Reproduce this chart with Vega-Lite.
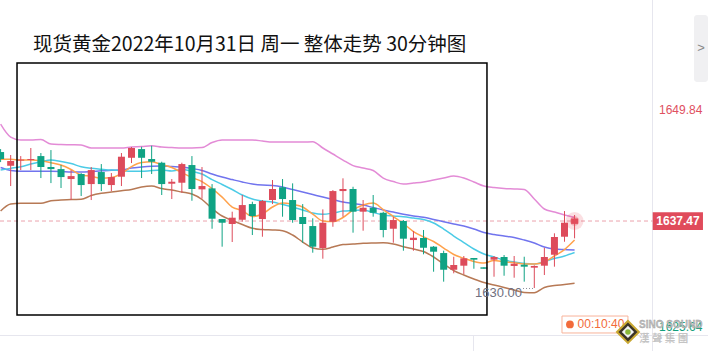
{
"$schema": "https://vega.github.io/schema/vega-lite/v6.json",
"width": 708, "height": 351, "padding": 0,
"autosize": {"type": "none"},
"background": "white",
"config": {"view": {"stroke": null}, "scale": {"continuousPadding": 0}},
"datasets": {
"k": [
{"i":0,"o":1645.16,"h":1645.49,"l":1644.04,"c":1644.38,"bu":1648.28,"mid":1643.43,"m10":1643.15,"m5":1644.35,"bl":1638.58},
{"i":1,"o":1643.63,"h":1644.83,"l":1641.37,"c":1644.16,"bu":1646.83,"mid":1643.10,"m10":1643.34,"m5":1644.35,"bl":1639.36},
{"i":2,"o":1644.21,"h":1644.71,"l":1643.15,"c":1644.32,"bu":1646.50,"mid":1643.01,"m10":1643.52,"m5":1644.27,"bl":1639.44},
{"i":3,"o":1644.27,"h":1645.61,"l":1643.15,"c":1644.38,"bu":1646.50,"mid":1643.01,"m10":1643.82,"m5":1644.27,"bl":1639.44},
{"i":4,"o":1644.71,"h":1645.05,"l":1642.26,"c":1643.49,"bu":1646.55,"mid":1643.01,"m10":1644.08,"m5":1644.19,"bl":1639.44},
{"i":5,"o":1643.49,"h":1645.38,"l":1641.70,"c":1643.26,"bu":1646.05,"mid":1643.01,"m10":1644.27,"m5":1643.97,"bl":1639.73},
{"i":6,"o":1643.26,"h":1643.71,"l":1641.15,"c":1642.37,"bu":1646.00,"mid":1642.99,"m10":1644.10,"m5":1643.71,"bl":1639.81},
{"i":7,"o":1642.15,"h":1643.15,"l":1639.81,"c":1642.48,"bu":1645.97,"mid":1642.93,"m10":1643.88,"m5":1643.21,"bl":1639.87},
{"i":8,"o":1642.71,"h":1642.82,"l":1640.26,"c":1641.48,"bu":1645.94,"mid":1642.93,"m10":1643.52,"m5":1642.60,"bl":1639.89},
{"i":9,"o":1641.59,"h":1643.49,"l":1639.81,"c":1643.15,"bu":1645.61,"mid":1642.99,"m10":1643.34,"m5":1642.46,"bl":1640.31},
{"i":10,"o":1642.93,"h":1643.82,"l":1640.81,"c":1641.59,"bu":1645.61,"mid":1643.08,"m10":1643.24,"m5":1642.23,"bl":1640.56},
{"i":11,"o":1641.48,"h":1642.82,"l":1640.81,"c":1642.37,"bu":1645.61,"mid":1643.12,"m10":1643.15,"m5":1642.32,"bl":1640.70},
{"i":12,"o":1642.41,"h":1645.05,"l":1641.37,"c":1644.64,"bu":1645.61,"mid":1643.15,"m10":1643.10,"m5":1642.76,"bl":1640.85},
{"i":13,"o":1644.52,"h":1645.72,"l":1643.93,"c":1645.61,"bu":1645.72,"mid":1643.38,"m10":1643.01,"m5":1643.54,"bl":1640.98},
{"i":14,"o":1645.49,"h":1645.75,"l":1642.26,"c":1644.52,"bu":1645.77,"mid":1643.49,"m10":1643.01,"m5":1643.99,"bl":1641.26},
{"i":15,"o":1644.38,"h":1645.86,"l":1642.71,"c":1644.08,"bu":1645.86,"mid":1643.57,"m10":1643.10,"m5":1644.08,"bl":1641.37},
{"i":16,"o":1643.97,"h":1644.08,"l":1640.37,"c":1641.59,"bu":1645.72,"mid":1643.60,"m10":1643.15,"m5":1643.77,"bl":1641.09},
{"i":17,"o":1641.63,"h":1642.15,"l":1639.92,"c":1641.85,"bu":1645.66,"mid":1643.54,"m10":1643.04,"m5":1643.43,"bl":1640.92},
{"i":18,"o":1641.74,"h":1643.97,"l":1640.62,"c":1643.82,"bu":1645.61,"mid":1643.49,"m10":1643.21,"m5":1642.87,"bl":1640.70},
{"i":19,"o":1643.71,"h":1644.71,"l":1639.73,"c":1641.04,"bu":1645.61,"mid":1643.32,"m10":1643.01,"m5":1642.32,"bl":1640.48},
{"i":20,"o":1641.00,"h":1643.49,"l":1639.96,"c":1641.37,"bu":1645.66,"mid":1643.10,"m10":1642.71,"m5":1641.87,"bl":1639.87},
{"i":21,"o":1641.11,"h":1641.59,"l":1636.61,"c":1637.73,"bu":1646.22,"mid":1642.71,"m10":1642.09,"m5":1641.09,"bl":1638.86},
{"i":22,"o":1637.69,"h":1637.69,"l":1634.61,"c":1637.28,"bu":1646.50,"mid":1642.37,"m10":1641.54,"m5":1640.14,"bl":1638.03},
{"i":23,"o":1637.14,"h":1638.51,"l":1635.13,"c":1637.84,"bu":1646.50,"mid":1642.09,"m10":1640.98,"m5":1639.03,"bl":1637.53},
{"i":24,"o":1637.61,"h":1640.37,"l":1637.39,"c":1639.25,"bu":1646.50,"mid":1641.82,"m10":1640.37,"m5":1638.64,"bl":1637.08},
{"i":25,"o":1639.36,"h":1639.62,"l":1635.91,"c":1638.03,"bu":1646.50,"mid":1641.59,"m10":1639.92,"m5":1637.97,"bl":1636.66},
{"i":26,"o":1637.69,"h":1639.81,"l":1635.72,"c":1639.70,"bu":1646.39,"mid":1641.48,"m10":1639.70,"m5":1638.25,"bl":1636.52},
{"i":27,"o":1639.81,"h":1642.04,"l":1639.36,"c":1641.04,"bu":1646.27,"mid":1641.43,"m10":1639.59,"m5":1639.03,"bl":1636.47},
{"i":28,"o":1641.23,"h":1642.15,"l":1637.95,"c":1639.92,"bu":1646.27,"mid":1641.26,"m10":1639.31,"m5":1639.48,"bl":1636.39},
{"i":29,"o":1639.81,"h":1641.67,"l":1637.28,"c":1637.58,"bu":1646.27,"mid":1640.98,"m10":1639.03,"m5":1639.33,"bl":1635.91},
{"i":30,"o":1637.92,"h":1639.36,"l":1635.05,"c":1637.14,"bu":1646.27,"mid":1640.70,"m10":1638.70,"m5":1639.03,"bl":1635.13},
{"i":31,"o":1636.91,"h":1637.77,"l":1633.94,"c":1634.61,"bu":1646.31,"mid":1640.42,"m10":1638.36,"m5":1638.25,"bl":1634.46},
{"i":32,"o":1634.46,"h":1638.77,"l":1633.27,"c":1637.28,"bu":1645.61,"mid":1640.14,"m10":1638.22,"m5":1637.47,"bl":1634.32},
{"i":33,"o":1637.39,"h":1640.92,"l":1636.83,"c":1640.81,"bu":1644.94,"mid":1639.87,"m10":1638.36,"m5":1637.41,"bl":1634.57},
{"i":34,"o":1640.81,"h":1642.23,"l":1637.95,"c":1641.04,"bu":1644.27,"mid":1639.59,"m10":1638.58,"m5":1637.86,"bl":1634.85},
{"i":35,"o":1641.04,"h":1641.29,"l":1636.17,"c":1638.51,"bu":1643.65,"mid":1639.42,"m10":1638.64,"m5":1638.70,"bl":1634.91},
{"i":36,"o":1638.51,"h":1639.81,"l":1636.39,"c":1638.95,"bu":1643.38,"mid":1639.25,"m10":1638.70,"m5":1639.25,"bl":1634.98},
{"i":37,"o":1638.95,"h":1640.37,"l":1637.95,"c":1638.39,"bu":1643.10,"mid":1638.97,"m10":1638.42,"m5":1639.48,"bl":1635.02},
{"i":38,"o":1638.39,"h":1638.51,"l":1635.65,"c":1636.47,"bu":1642.26,"mid":1638.70,"m10":1638.14,"m5":1638.75,"bl":1635.05},
{"i":39,"o":1636.61,"h":1637.95,"l":1635.05,"c":1637.58,"bu":1641.87,"mid":1638.47,"m10":1638.03,"m5":1637.97,"bl":1634.91},
{"i":40,"o":1637.47,"h":1637.58,"l":1634.16,"c":1635.50,"bu":1641.59,"mid":1638.22,"m10":1637.95,"m5":1637.19,"bl":1634.61},
{"i":41,"o":1635.35,"h":1636.36,"l":1634.16,"c":1635.61,"bu":1641.70,"mid":1638.03,"m10":1637.80,"m5":1636.30,"bl":1634.35},
{"i":42,"o":1635.58,"h":1636.47,"l":1633.76,"c":1634.49,"bu":1641.82,"mid":1637.88,"m10":1637.64,"m5":1635.69,"bl":1634.07},
{"i":43,"o":1634.61,"h":1634.68,"l":1631.82,"c":1634.05,"bu":1642.04,"mid":1637.64,"m10":1637.25,"m5":1635.19,"bl":1633.46},
{"i":44,"o":1633.90,"h":1634.16,"l":1630.71,"c":1632.04,"bu":1642.26,"mid":1637.39,"m10":1636.58,"m5":1634.46,"bl":1632.68},
{"i":45,"o":1632.04,"h":1633.49,"l":1631.64,"c":1632.57,"bu":1642.48,"mid":1637.14,"m10":1635.80,"m5":1633.74,"bl":1631.95},
{"i":46,"o":1632.49,"h":1633.57,"l":1631.56,"c":1633.31,"bu":1642.26,"mid":1636.91,"m10":1635.07,"m5":1633.31,"bl":1631.45},
{"i":47,"o":1633.35,"h":1633.35,"l":1632.15,"c":1633.16,"bu":1641.82,"mid":1636.58,"m10":1634.35,"m5":1632.96,"bl":1631.01},
{"i":48,"o":1632.31,"h":1632.31,"l":1632.15,"c":1632.15,"bu":1641.37,"mid":1636.19,"m10":1633.79,"m5":1632.79,"bl":1630.62},
{"i":49,"o":1633.16,"h":1633.57,"l":1631.26,"c":1633.46,"bu":1641.20,"mid":1635.97,"m10":1633.46,"m5":1633.07,"bl":1630.34},
{"i":50,"o":1633.46,"h":1633.68,"l":1631.37,"c":1632.49,"bu":1641.09,"mid":1635.80,"m10":1633.12,"m5":1632.93,"bl":1630.06},
{"i":51,"o":1632.46,"h":1633.57,"l":1631.15,"c":1632.71,"bu":1641.04,"mid":1635.63,"m10":1632.90,"m5":1632.82,"bl":1629.78},
{"i":52,"o":1632.60,"h":1633.49,"l":1630.71,"c":1632.38,"bu":1640.98,"mid":1635.35,"m10":1632.73,"m5":1632.68,"bl":1629.50},
{"i":53,"o":1632.27,"h":1632.53,"l":1630.00,"c":1632.46,"bu":1639.92,"mid":1635.02,"m10":1632.68,"m5":1632.68,"bl":1629.48},
{"i":54,"o":1632.49,"h":1634.49,"l":1631.45,"c":1633.46,"bu":1638.81,"mid":1634.57,"m10":1632.96,"m5":1632.90,"bl":1630.06},
{"i":55,"o":1633.71,"h":1636.10,"l":1632.38,"c":1635.69,"bu":1638.47,"mid":1634.35,"m10":1633.29,"m5":1633.57,"bl":1630.28},
{"i":56,"o":1635.72,"h":1638.58,"l":1635.16,"c":1637.28,"bu":1638.14,"mid":1634.29,"m10":1633.57,"m5":1634.29,"bl":1630.39},
{"i":57,"o":1637.15,"h":1638.14,"l":1635.54,"c":1637.75,"bu":1637.86,"mid":1634.24,"m10":1633.96,"m5":1635.35,"bl":1630.53}
]
},
"layer": [
{"data": {"values": [{"i": 64.74, "p": 1662.11, "p2": 1622.98}]},
 "mark": {"type": "rule", "color": "#e6e6ee", "strokeWidth": 1},
 "encoding": {"x": {"field": "i", "type": "quantitative", "scale": {"domain": [-0.06, 70.25], "nice": false, "zero": false, "padding": 0}, "axis": null},
  "y": {"field": "p", "type": "quantitative", "scale": {"domain": [1622.98, 1662.11], "nice": false, "zero": false, "padding": 0}, "axis": null}, "y2": {"field": "p2"}}},
{"data": {"values": [{"i": -0.06, "i2": 70.25, "p": 1624.71}]},
 "mark": {"type": "rule", "color": "#e6e6ee", "strokeWidth": 1},
 "encoding": {"x": {"field": "i", "type": "quantitative"}, "x2": {"field": "i2"}, "y": {"field": "p", "type": "quantitative"}}},
{"data": {"values": [{"i": 46.96, "p": 1624.71, "p2": 1622.98}]},
 "mark": {"type": "rule", "color": "#e6e6ee", "strokeWidth": 1},
 "encoding": {"x": {"field": "i", "type": "quantitative"}, "y": {"field": "p", "type": "quantitative"}, "y2": {"field": "p2"}}},
{"data": {"values": [{"i": -0.06, "i2": 64.74, "p": 1637.47}]},
 "mark": {"type": "rule", "color": "#eba3ad", "strokeWidth": 1, "strokeDash": [4, 3]},
 "encoding": {"x": {"field": "i", "type": "quantitative"}, "x2": {"field": "i2"}, "y": {"field": "p", "type": "quantitative"}}},
{"data": {"name": "k"}, "mark": {"type": "line", "color": "#e38bd6", "strokeWidth": 1.5, "interpolate": "monotone"},
 "encoding": {"x": {"field": "i", "type": "quantitative"}, "y": {"field": "bu", "type": "quantitative"}}},
{"data": {"name": "k"}, "mark": {"type": "line", "color": "#b77955", "strokeWidth": 1.5, "interpolate": "monotone"},
 "encoding": {"x": {"field": "i", "type": "quantitative"}, "y": {"field": "bl", "type": "quantitative"}}},
{"data": {"name": "k"}, "mark": {"type": "line", "color": "#7174ee", "strokeWidth": 1.5, "interpolate": "monotone"},
 "encoding": {"x": {"field": "i", "type": "quantitative"}, "y": {"field": "mid", "type": "quantitative"}}},
{"data": {"name": "k"}, "mark": {"type": "line", "color": "#4ccbe6", "strokeWidth": 1.5, "interpolate": "monotone"},
 "encoding": {"x": {"field": "i", "type": "quantitative"}, "y": {"field": "m10", "type": "quantitative"}}},
{"data": {"name": "k"}, "mark": {"type": "line", "color": "#ffa24c", "strokeWidth": 1.5, "interpolate": "monotone"},
 "encoding": {"x": {"field": "i", "type": "quantitative"}, "y": {"field": "m5", "type": "quantitative"}}},
{"data": {"name": "k"}, "mark": {"type": "rule", "strokeWidth": 1},
 "encoding": {"x": {"field": "i", "type": "quantitative"}, "y": {"field": "l", "type": "quantitative"}, "y2": {"field": "h"},
  "color": {"condition": {"test": "datum.c >= datum.o", "value": "#dd4b5b"}, "value": "#0fa384"}}},
{"data": {"name": "k"}, "transform": [{"filter": "datum.i > 0"}], "mark": {"type": "bar", "size": 7},
 "encoding": {"x": {"field": "i", "type": "quantitative"}, "y": {"field": "o", "type": "quantitative"}, "y2": {"field": "c"},
  "color": {"condition": {"test": "datum.c >= datum.o", "value": "#dd4b5b"}, "value": "#0fa384"}}},
{"data": {"name": "k"}, "transform": [{"filter": "datum.i == 0"}], "mark": {"type": "rect", "xOffset": 3.5},
 "encoding": {"x": {"field": "i", "type": "quantitative"}, "x2": {"datum": -0.06}, "y": {"field": "o", "type": "quantitative"}, "y2": {"field": "c"},
  "color": {"condition": {"test": "datum.c >= datum.o", "value": "#dd4b5b"}, "value": "#0fa384"}}},
{"data": {"values": [{"i": 57, "p": 1637.47}]},
 "mark": {"type": "point", "filled": true, "color": "#e8505f", "size": 320, "opacity": 0.18},
 "encoding": {"x": {"field": "i", "type": "quantitative"}, "y": {"field": "p", "type": "quantitative"}}},
{"data": {"values": [{"i": 57, "p": 1637.47}]},
 "mark": {"type": "point", "filled": true, "color": "#e8505f", "size": 90, "opacity": 0.35},
 "encoding": {"x": {"field": "i", "type": "quantitative"}, "y": {"field": "p", "type": "quantitative"}}},
{"data": {"values": [{"i": 1.63, "i2": 48.30, "p": 1655.08, "p2": 1627.00}]},
 "mark": {"type": "rect", "fill": null, "stroke": "#000000", "strokeWidth": 1.5},
 "encoding": {"x": {"field": "i", "type": "quantitative"}, "x2": {"field": "i2"}, "y": {"field": "p", "type": "quantitative"}, "y2": {"field": "p2"}}},
{"data": {"values": [{"t": "现货黄金2022年10月31日 周一 整体走势 30分钟图", "i": 3.22, "p": 1657.14}]},
 "mark": {"type": "text", "align": "left", "baseline": "middle", "font": "Noto Sans CJK SC", "fontSize": 19.5, "color": "#111111"},
 "encoding": {"x": {"field": "i", "type": "quantitative"}, "y": {"field": "p", "type": "quantitative"}, "text": {"field": "t"}}},
{"data": {"values": [{"i": 64.76, "i2": 69.75, "p": 1638.44, "p2": 1636.47}]},
 "mark": {"type": "rect", "fill": "#e04b5b"},
 "encoding": {"x": {"field": "i", "type": "quantitative"}, "x2": {"field": "i2"}, "y": {"field": "p", "type": "quantitative"}, "y2": {"field": "p2"}}},
{"data": {"values": [{"t": "1637.47", "i": 67.27, "p": 1637.47}]},
 "mark": {"type": "text", "align": "center", "baseline": "middle", "font": "Liberation Sans", "fontSize": 12, "fontWeight": "bold", "color": "#ffffff"},
 "encoding": {"x": {"field": "i", "type": "quantitative"}, "y": {"field": "p", "type": "quantitative"}, "text": {"field": "t"}}},
{"data": {"values": [{"t": "1649.84", "i": 65.38, "p": 1649.84}]},
 "mark": {"type": "text", "align": "left", "baseline": "middle", "font": "Liberation Sans", "fontSize": 12, "color": "#e0505f"},
 "encoding": {"x": {"field": "i", "type": "quantitative"}, "y": {"field": "p", "type": "quantitative"}, "text": {"field": "t"}}},
{"data": {"values": [{"t": "1625.64", "i": 65.38, "p": 1625.66}]},
 "mark": {"type": "text", "align": "left", "baseline": "middle", "font": "Liberation Sans", "fontSize": 12, "color": "#13a07c"},
 "encoding": {"x": {"field": "i", "type": "quantitative"}, "y": {"field": "p", "type": "quantitative"}, "text": {"field": "t"}}},
{"data": {"values": [{"t": "1630.00", "i": 51.78, "p": 1629.45}]},
 "mark": {"type": "text", "align": "right", "baseline": "middle", "font": "Liberation Sans", "fontSize": 13, "color": "#6f7080"},
 "encoding": {"x": {"field": "i", "type": "quantitative"}, "y": {"field": "p", "type": "quantitative"}, "text": {"field": "t"}}},
{"data": {"values": [{"i": 51.88, "i2": 52.9, "p": 1629.95}]},
 "mark": {"type": "rule", "color": "#8a8a96", "strokeWidth": 1, "strokeDash": [1, 2]},
 "encoding": {"x": {"field": "i", "type": "quantitative"}, "x2": {"field": "i2"}, "y": {"field": "p", "type": "quantitative"}}},
{"data": {"values": [{"i": 55.75, "i2": 62.30, "p": 1626.88, "p2": 1624.99}]},
 "mark": {"type": "rect", "fill": "#ffffff", "stroke": "#f8b39a", "strokeWidth": 1},
 "encoding": {"x": {"field": "i", "type": "quantitative"}, "x2": {"field": "i2"}, "y": {"field": "p", "type": "quantitative"}, "y2": {"field": "p2"}}},
{"data": {"values": [{"i": 56.54, "p": 1625.94}]},
 "mark": {"type": "point", "filled": true, "color": "#f26b3a", "size": 60, "opacity": 1},
 "encoding": {"x": {"field": "i", "type": "quantitative"}, "y": {"field": "p", "type": "quantitative"}}},
{"data": {"values": [{"t": "00:10:40", "i": 57.3, "p": 1625.94}]},
 "mark": {"type": "text", "align": "left", "baseline": "middle", "font": "Liberation Sans", "fontSize": 12, "color": "#f26b3a"},
 "encoding": {"x": {"field": "i", "type": "quantitative"}, "y": {"field": "p", "type": "quantitative"}, "text": {"field": "t"}}},
{"data": {"values": [{"i": 62.3, "p": 1625.1}]},
 "mark": {"type": "point", "shape": "diamond", "filled": true, "color": "#3b3428", "stroke": "#c9a832", "strokeWidth": 2, "size": 480, "opacity": 1},
 "encoding": {"x": {"field": "i", "type": "quantitative"}, "y": {"field": "p", "type": "quantitative"}}},
{"data": {"values": [{"i": 62.3, "p": 1625.1}]},
 "mark": {"type": "point", "shape": "diamond", "filled": true, "color": "#f2f2f2", "size": 150, "opacity": 1},
 "encoding": {"x": {"field": "i", "type": "quantitative"}, "y": {"field": "p", "type": "quantitative"}}},
{"data": {"values": [{"i": 62.3, "p": 1625.1}]},
 "mark": {"type": "point", "filled": true, "color": "#8ab83a", "size": 30, "opacity": 1},
 "encoding": {"x": {"field": "i", "type": "quantitative"}, "y": {"field": "p", "type": "quantitative"}}},
{"data": {"values": [{"t": "SINO SOUND", "i": 63.4, "p": 1625.88}]},
 "mark": {"type": "text", "align": "left", "baseline": "middle", "font": "Liberation Sans", "fontSize": 10, "fontWeight": "bold", "color": "#bdbdbd", "stroke": "#9a9a9a", "strokeWidth": 0.3},
 "encoding": {"x": {"field": "i", "type": "quantitative"}, "y": {"field": "p", "type": "quantitative"}, "text": {"field": "t"}}},
{"data": {"values": [{"t": "漢  聲  集  團", "i": 63.4, "p": 1624.32}]},
 "mark": {"type": "text", "align": "left", "baseline": "middle", "font": "Noto Sans CJK TC", "fontSize": 10.5, "fontWeight": "bold", "color": "#c4c4c4"},
 "encoding": {"x": {"field": "i", "type": "quantitative"}, "y": {"field": "p", "type": "quantitative"}, "text": {"field": "t"}}},
{"data": {"values": [{"i": 68.86, "i2": 70.25, "p": 1660.43, "p2": 1652.96}]},
 "mark": {"type": "rect", "fill": "#f0f0f2", "cornerRadius": 3},
 "encoding": {"x": {"field": "i", "type": "quantitative"}, "x2": {"field": "i2"}, "y": {"field": "p", "type": "quantitative"}, "y2": {"field": "p2"}}},
{"data": {"values": [{"t": ">", "i": 69.55, "p": 1656.75}]},
 "mark": {"type": "text", "align": "center", "baseline": "middle", "font": "Liberation Sans", "fontSize": 13, "color": "#888888"},
 "encoding": {"x": {"field": "i", "type": "quantitative"}, "y": {"field": "p", "type": "quantitative"}, "text": {"field": "t"}}}
]
}
